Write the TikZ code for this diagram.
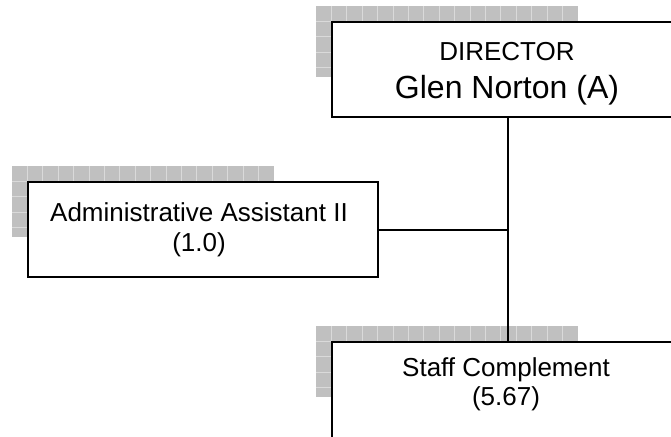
\documentclass[tikz,border=0pt]{standalone}
\usepackage{fontspec}
\setmainfont{Liberation Sans}
\definecolor{shadefill}{HTML}{C0C0C0}
\definecolor{shadegrid}{HTML}{DADADA}
\begin{document}
\begin{tikzpicture}[x=1pt,y=-1pt,
  orgbox/.style={draw=black, line width=2pt, fill=white, rectangle,
    minimum width=352pt, minimum height=95pt, inner sep=0pt},
  link/.style={draw=black, line width=2pt},
  small/.style={anchor=base, inner sep=0pt, font=\fontsize{26}{30}\selectfont},
  big/.style={anchor=base, inner sep=0pt, font=\fontsize{32}{36}\selectfont},
  gridshade/.pic={
    \fill[shadefill] (0,0) rectangle (262,71);
    \begin{scope}
      \clip (0,0) rectangle (262,71);
      \foreach \i in {1,...,16} \draw[shadegrid, line width=0.8pt] (\i*15.4,0) -- (\i*15.4,71);
      \foreach \j in {1,...,4} \draw[shadegrid, line width=0.8pt] (0,\j*15.4) -- (262,\j*15.4);
    \end{scope}
  }]
\useasboundingbox (0,0) rectangle (671,436);
\clip (0,0) rectangle (671,436);

% grid-patterned shadows behind the boxes
\pic at (316,6) {gridshade};
\pic at (12,166) {gridshade};
\pic at (316,326) {gridshade};

% boxes (the lower box runs past the bottom edge)
\node[orgbox] (dir) at (508,69.5) {};
\node[orgbox, minimum width=350pt] (admin) at (203,229.5) {};
\node[orgbox, minimum height=110pt] (staff) at (508,397) {};

% connectors
\draw[link] (dir.south) -- (staff.north);
\draw[link] (admin.east) -- (admin.east -| dir.south);

% labels
\node[small] (dirtitle) at (507,60.7) {DIRECTOR};
\node[big] (dirname) at (507,98.3) {Glen Norton (A)};
\node[small] (admintitle) at (199,221.7) {Administrative Assistant II};
\node[small] (adminfte) at (199,251) {(1.0)};
\node[small] (stafftitle) at (506,376.7) {Staff Complement};
\node[small] (stafffte) at (506,405) {(5.67)};
\end{tikzpicture}
\end{document}
